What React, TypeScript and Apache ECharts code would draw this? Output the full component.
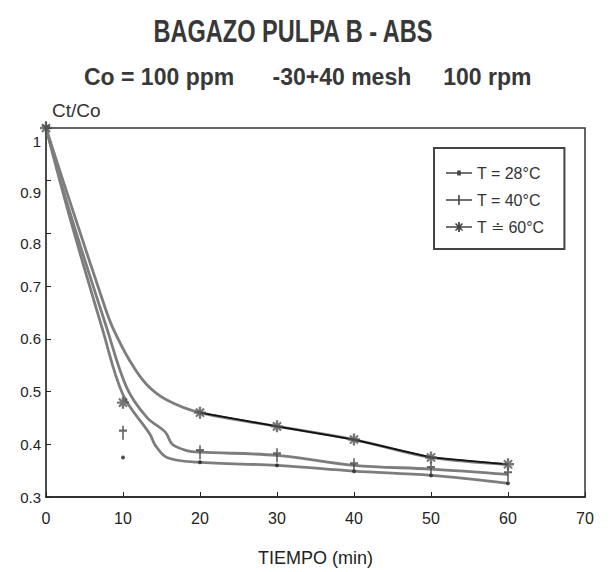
import React, { useEffect, useRef } from "react";
import * as echarts from "echarts";

const titleText = "BAGAZO PULPA B - ABS";
const subtitleText = "Co = 100 ppm      -30+40 mesh     100 rpm";
const yAxisName = "Ct/Co";
const xAxisName = "TIEMPO (min)";
const seriesNames = ["T = 28°C", "T = 40°C", "T ≐ 60°C"];

// smooth (fitted) curves
const curveT28 = [0, 3, 7.3, 10, 13.5, 14.2, 15.7, 19.6, 30, 40, 50, 60];
const curveV28 = [1, 0.835, 0.62, 0.494, 0.419, 0.398, 0.375, 0.366, 0.36, 0.349, 0.341, 0.326];
const curveT40 = [0, 3, 7.9, 10.5, 13.1, 15.5, 16.4, 18.3, 20, 30, 40, 50, 60];
const curveV40 = [1, 0.845, 0.62, 0.507, 0.451, 0.423, 0.4, 0.388, 0.385, 0.379, 0.36, 0.353, 0.343];
const curveT60 = [0, 3, 7.7, 8.7, 10.9, 13.1, 15.7, 20, 30, 40, 50, 60];
const curveV60 = [1, 0.865, 0.658, 0.62, 0.558, 0.513, 0.484, 0.46, 0.434, 0.409, 0.375, 0.362];

// measured points
const timeData = [0, 10, 20, 30, 40, 50, 60];
const meas28 = [1, 0.375, 0.366, 0.36, 0.349, 0.341, 0.326];
const meas40 = [1, 0.422, 0.385, 0.379, 0.36, 0.353, 0.343];
const meas60 = [1, 0.479, 0.46, 0.434, 0.409, 0.375, 0.362];

const STAR =
  "path://M4,0H6V10H4Z M0,4H10V6H0Z M1,2.2L2.2,1L9,7.8L7.8,9Z M2.2,9L1,7.8L7.8,1L9,2.2Z";
const PLUS = "path://M4.2,0H5.8V10H4.2Z M1.2,2.8H8.8V4.3H1.2Z";

const ICON28 = "path://M0,4.2H26V5.8H0Z M11.2,2.6H14.8V7.4H11.2Z";
const ICON40 = "path://M0,4.2H26V5.8H0Z M12.2,0H13.8V10H12.2Z";
const ICON60 =
  "path://M0,4.2H26V5.8H0Z M12.1,0H13.9V10H12.1Z M10.07,0.93L17.07,7.93L15.93,9.07L8.93,2.07Z M17.07,2.07L10.07,9.07L8.93,7.93L15.93,0.93Z";

const zip = (t: number[], v: number[]) => t.map((x, i) => [x, v[i]]);

const FONT = "'Liberation Sans', Arial, sans-serif";
const CURVE = "#7d7d7d";

export default function App() {
  const ref = useRef<HTMLDivElement>(null);
  useEffect(() => {
    if (!ref.current) return;
    const chart = echarts.init(ref.current, undefined, { renderer: "svg" });
    const labelBase = { fontFamily: FONT, fontSize: 15, color: "#222" };
    chart.setOption({
      animation: false,
      backgroundColor: "#ffffff",
      graphic: [
        {
          type: "text",
          x: 293,
          y: 31,
          scaleX: 0.76,
          style: {
            text: titleText,
            font: "bold 31px 'Liberation Sans', Arial, sans-serif",
            fill: "#383838",
            textAlign: "center",
            textVerticalAlign: "middle",
          },
        },
        {
          type: "text",
          x: 84,
          y: 77,
          style: {
            text: subtitleText,
            font: "bold 23px 'Liberation Sans', Arial, sans-serif",
            fill: "#383838",
            textAlign: "left",
            textVerticalAlign: "middle",
          },
        },
      ],
      legend: {
        data: [
          { name: seriesNames[0], icon: ICON28 },
          { name: seriesNames[1], icon: ICON40 },
          { name: seriesNames[2], icon: ICON60 },
        ],
        orient: "vertical",
        left: 434,
        top: 148,
        padding: [17, 20, 14, 12],
        itemGap: 11,
        itemWidth: 26,
        itemHeight: 10,
        symbolKeepAspect: true,
        borderColor: "#444",
        borderWidth: 2,
        backgroundColor: "#fff",
        textStyle: { fontFamily: FONT, fontSize: 16, color: "#333" },
      },
      grid: {
        left: 46,
        right: 26,
        top: 128,
        bottom: 72,
        show: true,
        borderColor: "#333",
        borderWidth: 1.5,
      },
      xAxis: {
        type: "value",
        min: 0,
        max: 70,
        interval: 10,
        name: xAxisName,
        nameLocation: "middle",
        nameGap: 52,
        nameTextStyle: { fontFamily: FONT, fontSize: 18, color: "#222" },
        axisLine: { show: true, lineStyle: { color: "#222", width: 1.5 } },
        axisTick: { show: true, inside: true, length: 5, lineStyle: { color: "#222" } },
        axisLabel: { fontFamily: FONT, fontSize: 16, color: "#222", margin: 13 },
        splitLine: { show: false },
      },
      yAxis: {
        type: "value",
        min: 0.3,
        max: 1,
        interval: 0.1,
        name: yAxisName,
        nameLocation: "end",
        nameGap: 8,
        nameTextStyle: { fontFamily: FONT, fontSize: 19, color: "#333", align: "left", padding: [0, 0, 0, 6] },
        axisLine: { show: true, lineStyle: { color: "#444", width: 1.5 } },
        axisTick: { show: true, inside: true, length: 5, lineStyle: { color: "#222" } },
        axisLabel: {
          ...labelBase,
          margin: 5,
          formatter: (v: number) => {
            const s = String(+v.toFixed(1));
            if (v > 0.95) return "{d13|" + s + "}";
            if (v > 0.85) return "{d12|" + s + "}";
            if (v > 0.75) return "{d10|" + s + "}";
            return s;
          },
          rich: {
            d13: { ...labelBase, padding: [26, 0, 0, 0] },
            d12: { ...labelBase, padding: [24, 0, 0, 0] },
            d10: { ...labelBase, padding: [20, 0, 0, 0] },
          },
        },
        splitLine: { show: false },
      },
      series: [
        {
          name: seriesNames[0],
          type: "line",
          data: zip(curveT28, curveV28),
          smooth: 0.35,
          showSymbol: false,
          symbol: "circle",
          lineStyle: { color: CURVE, width: 2.8 },
          itemStyle: { color: "#444" },
          z: 2,
        },
        {
          name: seriesNames[1],
          type: "line",
          data: zip(curveT40, curveV40),
          smooth: 0.35,
          showSymbol: false,
          symbol: PLUS,
          lineStyle: { color: CURVE, width: 2.8 },
          itemStyle: { color: "#444" },
          z: 2,
        },
        {
          name: seriesNames[2],
          type: "line",
          data: zip(curveT60, curveV60),
          smooth: 0.35,
          showSymbol: false,
          symbol: STAR,
          lineStyle: { color: CURVE, width: 2.8 },
          itemStyle: { color: "#444" },
          z: 2,
        },
        {
          name: "T60 data line",
          type: "line",
          data: zip(timeData.slice(2), meas60.slice(2)),
          showSymbol: false,
          lineStyle: { color: "#111", width: 1.8 },
          z: 3,
        },
        {
          name: "T28 data",
          type: "scatter",
          data: zip(timeData, meas28),
          symbol: "circle",
          symbolSize: 4,
          itemStyle: { color: "#222" },
          z: 4,
        },
        {
          name: "T40 data",
          type: "scatter",
          data: zip(timeData, meas40),
          symbol: PLUS,
          symbolSize: [8, 14],
          itemStyle: { color: "#444" },
          z: 4,
        },
        {
          name: "T60 data",
          type: "scatter",
          data: zip(timeData, meas60),
          symbol: STAR,
          symbolSize: 12,
          itemStyle: { color: "#555" },
          z: 4,
        },
      ],
    });
    return () => chart.dispose();
  }, []);
  return (
    <div
      ref={ref}
      style={{ position: "fixed", left: 0, top: 0, width: 611, height: 572, background: "#fff" }}
    />
  );
}
